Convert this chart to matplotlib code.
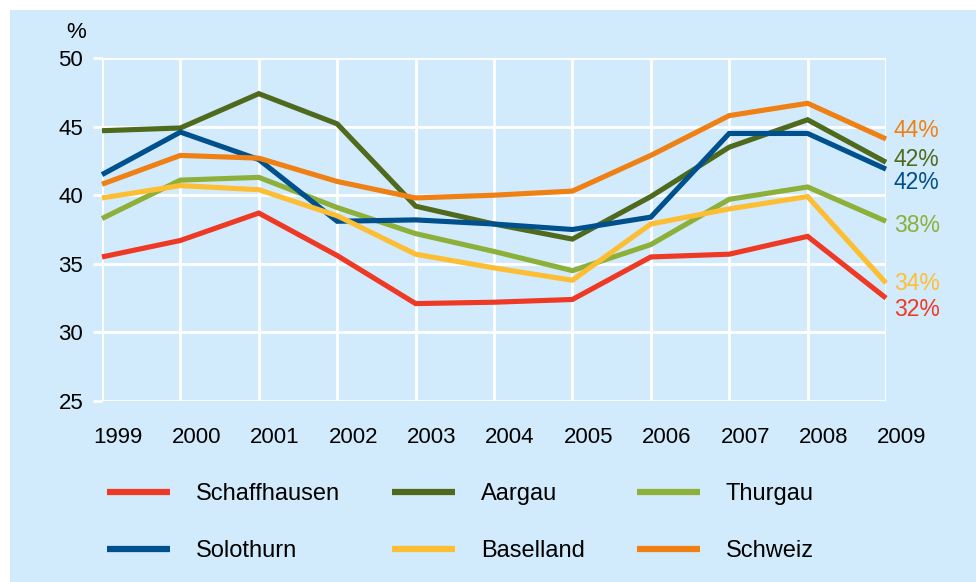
import numpy as np
import matplotlib.pyplot as plt
import matplotlib.transforms as mtransforms
from matplotlib.patches import Rectangle

plt.rcParams['font.family'] = ['Liberation Sans', 'DejaVu Sans']

years = list(range(1999, 2010))
names = ['Schaffhausen', 'Aargau', 'Thurgau', 'Solothurn', 'Baselland', 'Schweiz']
colors = ['#EE3A24', '#4F6A1D', '#8DB03B', '#00508E', '#FDBE33', '#EF8013']

schaffhausen = [35.5, 36.7, 38.7, 35.6, 32.1, 32.2, 32.4, 35.5, 35.7, 37.0, 32.5]
aargau = [44.7, 44.9, 47.4, 45.2, 39.2, 37.9, 36.8, 39.9, 43.5, 45.5, 42.4]
thurgau = [38.3, 41.1, 41.3, 39.1, 37.2, 35.9, 34.5, 36.4, 39.7, 40.6, 38.1]
solothurn = [41.5, 44.6, 42.6, 38.1, 38.2, 37.9, 37.5, 38.4, 44.5, 44.5, 41.9]
baselland = [39.8, 40.7, 40.4, 38.5, 35.7, 34.7, 33.8, 37.9, 39.0, 39.9, 33.6]
schweiz = [40.8, 42.9, 42.7, 41.0, 39.8, 40.0, 40.3, 42.9, 45.8, 46.7, 44.1]
series = [schaffhausen, aargau, thurgau, solothurn, baselland, schweiz]

end_labels = ['32%', '42%', '38%', '42%', '34%', '44%']
end_label_y = [31.7, 42.6, 37.8, 40.9, 33.6, 44.75]

bg = '#D2EBFC'

fig = plt.figure(figsize=(9.76, 5.82), dpi=100)
fig.patch.set_facecolor(bg)
# white strips at top and left
fig.patches.append(Rectangle((0, 572/582), 1, 10/582, transform=fig.transFigure,
                             facecolor='white', edgecolor='none'))
fig.patches.append(Rectangle((0, 0), 10/976, 1, transform=fig.transFigure,
                             facecolor='white', edgecolor='none'))

ax = fig.add_axes([102/976, 1-401/582, 784/976, 343/582])
ax.set_facecolor(bg)
for s in ax.spines.values():
    s.set_visible(False)

ax.set_xlim(1999, 2009)
ax.set_ylim(25, 50)
ax.set_xticks(years)
ax.set_yticks([25, 30, 35, 40, 45, 50])
ax.grid(True, color='white', linewidth=2)
ax.set_axisbelow(True)
ax.tick_params(axis='y', length=6.5, width=2, color='white', labelsize=16, pad=7)
ax.tick_params(axis='x', length=0, labelsize=16, pad=19)
# year labels sit a bit to the right of their gridlines
shift = mtransforms.ScaledTranslation(16/100, 0, fig.dpi_scale_trans)
for lbl in ax.get_xticklabels():
    lbl.set_transform(lbl.get_transform() + shift)

handles = {}
for name, vals, c in zip(names, series, colors):
    ln, = ax.plot(years, vals, color=c, linewidth=3.7, clip_on=False,
                  solid_joinstyle='miter', solid_capstyle='butt', label=name)
    handles[name] = ln

for lab, y, c in zip(end_labels, end_label_y, colors):
    ax.text(2009.1, y, lab, color=c, fontsize=16.5, va='center', ha='left')

ax.text(-0.02, 1.045, '%', transform=ax.transAxes, fontsize=16, ha='right', va='bottom')

order = ['Schaffhausen', 'Solothurn', 'Aargau', 'Baselland', 'Thurgau', 'Schweiz']
leg = fig.legend([handles[n] for n in order], order, ncol=3, frameon=False,
                 loc='upper left', bbox_to_anchor=(107/976, 1-483/582),
                 borderpad=0, borderaxespad=0,
                 fontsize=17, handlelength=2.67, handletextpad=1.1,
                 columnspacing=2.2, labelspacing=1.48)
for l in leg.get_lines():
    l.set_linewidth(4.5)

fig.savefig('out.png', dpi=100, facecolor=fig.get_facecolor())
